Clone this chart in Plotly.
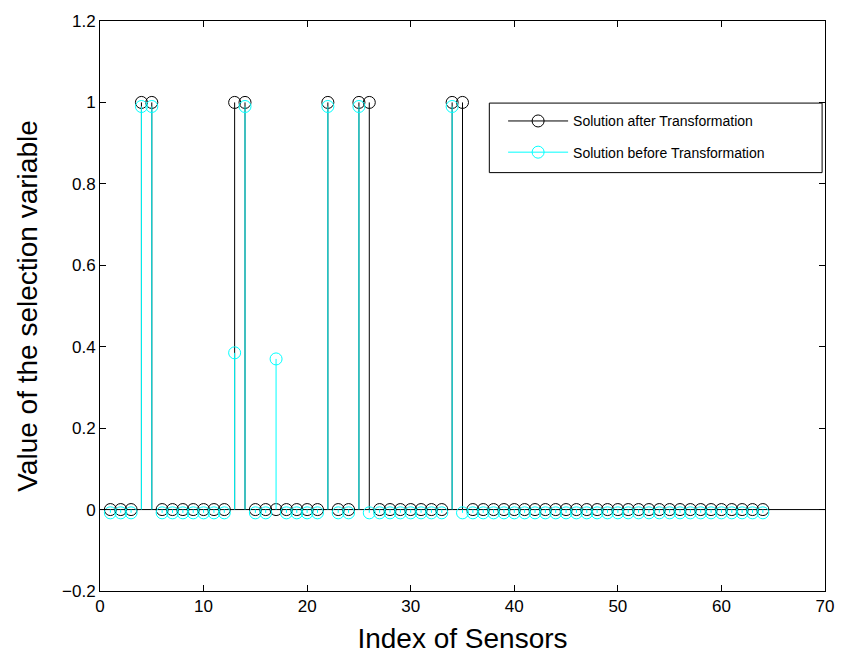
import plotly.graph_objects as go

sensors = list(range(1, 65))
after_ones = [4, 5, 13, 14, 22, 25, 26, 34, 35]
after_vals = [1.0 if s in after_ones else 0.0 for s in sensors]

before_special = {4: 0.99, 5: 0.99, 13: 0.385, 14: 0.99, 17: 0.37,
                  22: 0.99, 25: 0.99, 34: 0.99}
before_zero = -0.008
before_vals = [before_special.get(s, before_zero) for s in sensors]

x_ticks = [0, 10, 20, 30, 40, 50, 60, 70]
y_ticks = [-0.2, 0, 0.2, 0.4, 0.6, 0.8, 1, 1.2]

BLACK = "#000000"
CYAN = "#00FFFF"
FONT = "Liberation Sans, Arial"


def stems(xs, ys):
    sx, sy = [], []
    for x, y in zip(xs, ys):
        sx += [x, x, None]
        sy += [0, y, None]
    return sx, sy


fig = go.Figure()

for i, (name, vals, color) in enumerate(
        [("Solution after Transformation", after_vals, BLACK),
         ("Solution before Transformation", before_vals, CYAN)]):
    sx, sy = stems(sensors, vals)
    fig.add_trace(go.Scatter(x=sx, y=sy, mode="lines",
                             line=dict(color=color, width=1),
                             showlegend=False, hoverinfo="skip"))
    fig.add_trace(go.Scatter(x=sensors, y=vals, mode="markers",
                             marker=dict(symbol="circle-open", size=12,
                                         color=color, line=dict(width=1)),
                             showlegend=False))
    fig.add_trace(go.Scatter(x=[None], y=[None], mode="lines+markers",
                             name=name, legendgroup=f"g{i}",
                             line=dict(color=color, width=1),
                             marker=dict(symbol="circle-open", size=12,
                                         color=color, line=dict(width=1))))

fig.add_shape(type="line", xref="paper", x0=0, x1=1, yref="y", y0=0, y1=0,
              line=dict(color=BLACK, width=1), layer="below")
# legend frame
fig.add_shape(type="rect", xref="paper", yref="paper",
              x0=0.537, x1=0.996, y0=0.734, y1=0.856,
              line=dict(color=BLACK, width=1), fillcolor="white", layer="below")

axis_common = dict(showgrid=False, zeroline=False, showline=True,
                   linecolor=BLACK, linewidth=1, mirror="ticks",
                   ticks="inside", ticklen=6, tickcolor=BLACK,
                   tickfont=dict(family=FONT, size=17, color=BLACK))

fig.update_xaxes(range=[0, 70], tickvals=x_ticks,
                 title=dict(text="Index of Sensors", standoff=12,
                            font=dict(family=FONT, size=28, color=BLACK)),
                 **axis_common)
fig.update_yaxes(range=[-0.2, 1.2], tickvals=y_ticks,
                 title=dict(text="Value of the selection variable", standoff=16,
                            font=dict(family=FONT, size=28, color=BLACK)),
                 **axis_common)

fig.update_layout(
    width=846, height=660,
    margin=dict(l=100, r=18, t=17, b=67),
    paper_bgcolor="white", plot_bgcolor="white",
    legend=dict(x=0.556, y=0.852, xanchor="left", yanchor="top",
                bgcolor="rgba(0,0,0,0)", borderwidth=0,
                font=dict(family=FONT, size=14, color=BLACK),
                itemwidth=60, tracegroupgap=10),
)

fig.write_html("out.html")
